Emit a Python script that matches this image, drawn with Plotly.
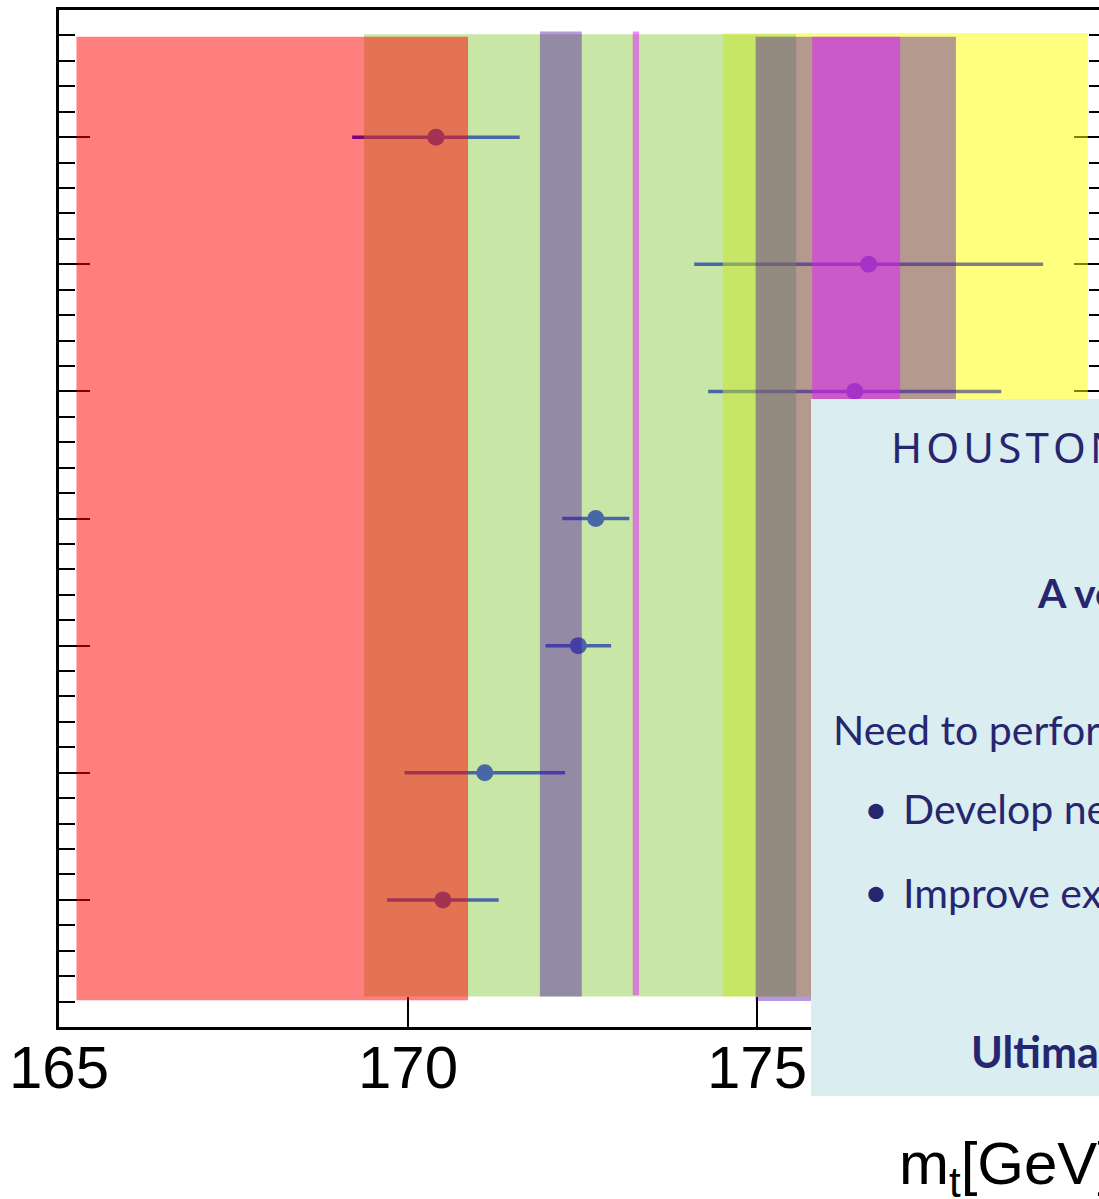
import plotly.graph_objects as go

# Individual top-quark mass measurements (GeV), one per row from the top down
rows = [7, 6, 5, 4, 3, 2, 1]
meas_mass = [170.40, 176.60, 176.40, 172.69, 172.44, 171.10, 170.50]
meas_err = [1.20, 2.50, 2.10, 0.48, 0.47, 1.15, 0.80]

# Vertical bands (GeV): lower / upper edge, drawn in this order
band_names = ["yellow", "green", "red", "violet_a", "line", "violet_b", "magenta"]
band_lo = [174.51, 169.37, 165.25, 171.89, 173.22, 174.98, 175.79]
band_hi = [179.74, 175.56, 170.86, 172.49, 173.31, 177.85, 177.05]

x_ticks = [165, 170, 175]

# styling
band_fill = {
    "yellow": "rgba(255,255,0,0.5)",
    "green": "rgba(145,205,77,0.5)",
    "red": "rgba(255,0,0,0.5)",
    "violet_a": "rgba(67,0,167,0.4)",
    "line": "rgba(225,25,255,0.5)",
    "violet_b": "rgba(67,0,167,0.4)",
    "magenta": "rgba(225,25,255,0.5)",
}
band_y = {
    "yellow": (0.24, 7.82),
    "green": (0.24, 7.81),
    "red": (0.21, 7.79),
    "violet_a": (0.24, 7.83),
    "line": (0.25, 7.83),
    "violet_b": (0.205, 7.79),
    "magenta": (0.21, 7.79),
}

W, H = 1099, 1199
L, R, T, B = 59, 0, 10, 172
PW, PH = W - L - R, H - T - B

def px_x(px):
    return (px - L) / PW

def px_y(py):
    return (T + PH - py) / PH

AX_FONT = "Liberation Sans, Arial, sans-serif"
NAVY = "#262670"
BOX_FONT = "Lato, Open Sans, sans-serif"
HS = "\u200a"  # hair space between the title letters

fig = go.Figure()

fig.add_trace(go.Scatter(
    x=meas_mass, y=rows, mode="markers",
    marker=dict(color="rgb(0,0,255)", size=17, line=dict(width=0)),
    error_x=dict(type="data", array=meas_err, color="rgb(0,0,255)",
                 thickness=3.5, width=0),
    showlegend=False, hoverinfo="skip",
))
# invisible copy on the right-hand axis so its ticks get drawn
fig.add_trace(go.Scatter(
    x=meas_mass, y=rows, yaxis="y2", mode="markers",
    marker=dict(opacity=0), showlegend=False, hoverinfo="skip",
))

shapes = []
for name, lo, hi in zip(band_names, band_lo, band_hi):
    y0, y1 = band_y[name]
    shapes.append(dict(type="rect", xref="x", yref="y", x0=lo, x1=hi, y0=y0, y1=y1,
                       fillcolor=band_fill[name], line=dict(width=0), layer="above"))

# text panel
shapes.append(dict(type="rect", xref="paper", yref="paper",
                   x0=px_x(811), x1=1.05, y0=px_y(1096), y1=px_y(399),
                   fillcolor="#DAEDF0", line=dict(width=0), layer="above"))

annotations = [
    dict(text=HS.join("HOUSTON"), x=px_x(889), y=px_y(446),
         font=dict(family="Noto Sans, sans-serif", size=42, color=NAVY)),
    dict(text="<b>A very</b>", x=px_x(1035), y=px_y(592), font=dict(family=BOX_FONT, size=41, color=NAVY)),
    dict(text="Need to perform", x=px_x(831), y=px_y(729), font=dict(family=BOX_FONT, size=41, color=NAVY)),
    dict(text="•", x=px_x(862), y=px_y(808), font=dict(family=BOX_FONT, size=41, color=NAVY)),
    dict(text="Develop new", x=px_x(901), y=px_y(809), font=dict(family=BOX_FONT, size=41, color=NAVY)),
    dict(text="•", x=px_x(862), y=px_y(891), font=dict(family=BOX_FONT, size=41, color=NAVY)),
    dict(text="Improve experimental", x=px_x(901), y=px_y(892), font=dict(family=BOX_FONT, size=41, color=NAVY)),
    dict(text="<b>Ultimate</b>", x=px_x(969), y=px_y(1051), font=dict(family=BOX_FONT, size=43, color=NAVY)),
    dict(text="m<sub>t</sub>[GeV]", x=px_x(897), y=px_y(1168), font=dict(family=AX_FONT, size=60, color="black")),
]
for a in annotations:
    a.update(xref="paper", yref="paper", xanchor="left", yanchor="middle", showarrow=False)

# x tick labels placed just under the axis line
for v in x_ticks:
    annotations.append(dict(text=str(v), x=v, xref="x", y=px_y(1067), yref="paper",
                            xanchor="center", yanchor="middle", showarrow=False,
                            font=dict(family=AX_FONT, size=60, color="black")))

fig.update_layout(
    width=W, height=H,
    margin=dict(l=L, r=R, t=T, b=B, pad=0),
    paper_bgcolor="white", plot_bgcolor="white",
    shapes=shapes, annotations=annotations,
    xaxis=dict(
        range=[165, 165 + PW / 69.8], tickvals=x_ticks, showticklabels=False,
        ticks="inside", ticklen=30, tickwidth=1.5, tickcolor="black",
        showline=True, linecolor="black", linewidth=2.5, mirror=True,
        showgrid=False, zeroline=False,
    ),
    yaxis=dict(
        range=[0, 8], dtick=1, tick0=0, ticks="inside", ticklen=31, tickwidth=2,
        tickcolor="black", showticklabels=False,
        minor=dict(dtick=0.2, tick0=0, ticks="inside", ticklen=16, tickwidth=2, tickcolor="black"),
        showline=True, linecolor="black", linewidth=2.5,
        showgrid=False, zeroline=False,
    ),
    yaxis2=dict(
        overlaying="y", side="right", anchor="x",
        range=[0, 8], dtick=1, tick0=0, ticks="inside", ticklen=25, tickwidth=2,
        tickcolor="black", showticklabels=False,
        minor=dict(dtick=0.2, tick0=0, ticks="inside", ticklen=10, tickwidth=2, tickcolor="black"),
        showline=False, showgrid=False, zeroline=False,
    ),
)

fig.write_html("out.html")
